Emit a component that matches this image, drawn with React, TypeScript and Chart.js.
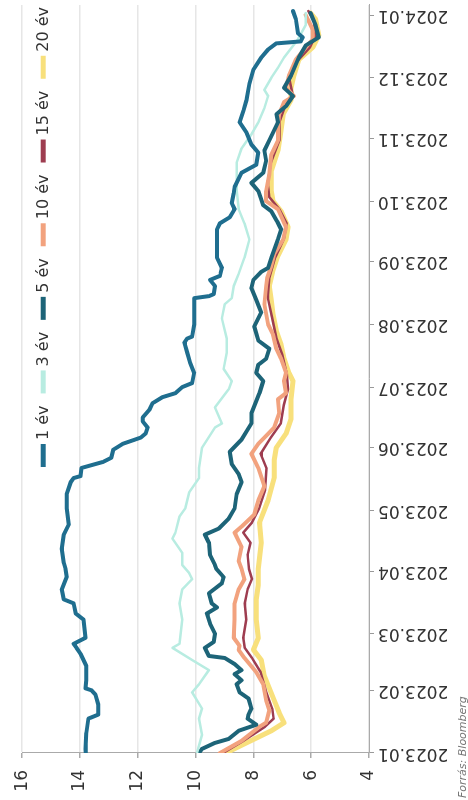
import React, { useEffect, useRef } from "react";
import { Chart, registerables } from "chart.js";

Chart.register(...registerables);

// Month tick positions (days since 2023-01-01) and their labels
const monthStarts = [0, 31, 59, 90, 120, 151, 181, 212, 243, 273, 304, 334, 365];
const monthLabels = [
  "2023.01", "2023.02", "2023.03", "2023.04", "2023.05", "2023.06", "2023.07",
  "2023.08", "2023.09", "2023.10", "2023.11", "2023.12", "2024.01",
];

const seriesNames = ["1 év", "3 év", "5 év", "10 év", "15 év", "20 év"];
const seriesColors = ["#1f6e8f", "#b8ece1", "#1d6478", "#f2a27e", "#9e3d50", "#f8e07c"];
const seriesWidths = [4, 2.5, 4, 4, 2.5, 5];

// 1 év
const days1 = [0, 2, 10, 17, 19, 24, 29, 31, 32, 36, 43, 49, 52, 54, 57, 66, 69, 74, 76, 81, 87, 91, 94, 101, 108, 113, 121, 128, 134, 136, 137, 141, 144, 146, 150, 153, 156, 158, 161, 164, 166, 170, 173, 176, 178, 181, 183, 188, 193, 198, 203, 205, 206, 212, 222, 225, 226, 227, 231, 234, 236, 240, 245, 254, 259, 262, 265, 269, 272, 277, 280, 287, 291, 297, 301, 307, 312, 318, 323, 331, 338, 344, 348, 351, 352, 354, 356, 363, 367];
const yield1 = [13.80, 13.81, 13.78, 13.71, 13.37, 13.37, 13.47, 13.60, 13.81, 13.78, 13.78, 13.98, 14.12, 14.22, 13.81, 13.88, 14.15, 14.22, 14.56, 14.63, 14.46, 14.50, 14.56, 14.63, 14.56, 14.39, 14.46, 14.46, 14.32, 14.22, 13.98, 13.95, 13.20, 12.92, 12.85, 12.51, 11.90, 11.73, 11.66, 11.83, 11.83, 11.59, 11.49, 11.15, 10.70, 10.46, 10.12, 10.05, 10.19, 10.29, 10.39, 10.29, 10.12, 10.05, 10.05, 10.05, 9.54, 9.37, 9.33, 9.50, 9.16, 9.09, 9.26, 9.26, 9.26, 9.16, 8.82, 8.65, 8.75, 8.68, 8.65, 8.41, 7.90, 7.83, 8.07, 8.24, 8.48, 8.34, 8.24, 8.14, 8.00, 7.73, 7.49, 7.21, 6.36, 6.29, 6.46, 6.53, 6.63];

// 3 év
const days3 = [0, 9, 17, 22, 30, 34, 41, 46, 52, 54, 66, 74, 81, 86, 89, 93, 99, 106, 109, 117, 121, 129, 136, 141, 151, 161, 163, 171, 180, 184, 190, 198, 205, 215, 222, 225, 231, 237, 245, 254, 262, 269, 278, 284, 292, 299, 306, 312, 319, 325, 328, 334, 339, 344, 353, 360, 366];
const yield3 = [9.95, 9.78, 9.88, 9.78, 10.12, 9.88, 9.54, 10.12, 10.80, 10.56, 10.46, 10.56, 10.46, 10.12, 10.22, 10.46, 10.46, 10.80, 10.70, 10.56, 10.36, 10.22, 9.88, 9.88, 9.78, 9.33, 9.09, 9.33, 8.85, 8.75, 9.03, 8.92, 8.92, 9.09, 8.99, 8.75, 8.68, 8.51, 8.31, 8.14, 8.31, 8.51, 8.58, 8.58, 8.58, 8.41, 8.07, 7.83, 7.62, 7.49, 7.62, 7.38, 7.15, 6.94, 6.46, 6.19, 6.19];

// 5 év
const days5 = [0, 2, 5, 7, 11, 14, 17, 19, 22, 27, 30, 34, 36, 39, 41, 44, 47, 48, 52, 55, 59, 64, 69, 72, 74, 79, 84, 87, 91, 93, 98, 104, 108, 111, 116, 121, 128, 134, 138, 143, 149, 155, 163, 168, 178, 184, 188, 192, 195, 200, 204, 211, 218, 224, 230, 234, 238, 240, 245, 254, 259, 263, 268, 271, 274, 278, 282, 287, 293, 298, 303, 312, 316, 320, 325, 329, 335, 344, 350, 354, 360, 366];
const yield5 = [9.88, 9.78, 9.33, 8.85, 8.51, 7.90, 8.20, 8.17, 8.07, 8.17, 8.48, 8.58, 8.41, 8.65, 8.41, 8.65, 8.99, 9.54, 9.68, 9.37, 9.33, 9.50, 9.61, 9.26, 9.44, 9.54, 9.09, 9.03, 9.28, 9.33, 9.50, 9.54, 9.68, 9.20, 8.85, 8.65, 8.58, 8.41, 8.51, 8.75, 8.82, 8.41, 8.07, 8.07, 7.79, 7.66, 7.90, 7.83, 7.56, 7.45, 7.83, 7.97, 7.73, 7.90, 8.07, 8.00, 7.73, 7.49, 7.38, 7.15, 7.04, 7.18, 7.38, 7.66, 7.73, 7.83, 8.07, 7.66, 7.56, 7.62, 7.45, 7.15, 7.20, 6.87, 6.63, 6.94, 6.70, 6.43, 6.19, 5.74, 5.85, 6.02];

// 10 év
const days10 = [0, 6, 13, 15, 21, 26, 34, 40, 47, 51, 53, 57, 66, 74, 81, 86, 91, 95, 102, 109, 112, 118, 125, 132, 141, 148, 153, 156, 161, 168, 175, 178, 184, 188, 195, 200, 207, 212, 222, 231, 235, 241, 247, 254, 260, 269, 273, 278, 286, 296, 303, 309, 316, 322, 325, 329, 335, 343, 349, 353, 358, 365];
const yield10 = [9.16, 8.41, 7.79, 7.56, 7.45, 7.56, 7.66, 7.90, 8.31, 8.51, 8.48, 8.68, 8.65, 8.65, 8.51, 8.31, 8.41, 8.51, 8.41, 8.65, 8.41, 7.97, 7.83, 7.62, 7.83, 8.07, 7.83, 7.62, 7.28, 7.11, 7.15, 6.87, 6.94, 6.87, 7.04, 7.21, 7.32, 7.49, 7.62, 7.56, 7.52, 7.38, 7.28, 6.97, 6.87, 7.15, 7.56, 7.56, 7.45, 7.38, 7.15, 7.15, 7.11, 6.94, 6.60, 6.87, 6.77, 6.53, 6.19, 5.95, 5.95, 6.19];

// 15 év
const days15 = [0, 6, 13, 17, 22, 30, 40, 47, 52, 57, 66, 74, 81, 86, 91, 98, 104, 109, 114, 121, 130, 141, 148, 156, 163, 172, 180, 188, 197, 205, 215, 225, 235, 245, 254, 262, 269, 275, 282, 292, 303, 312, 320, 326, 333, 342, 349, 355, 362, 367];
const yield15 = [9.05, 8.35, 7.60, 7.30, 7.35, 7.55, 7.75, 8.05, 8.30, 8.35, 8.25, 8.30, 8.20, 8.05, 8.15, 8.20, 8.10, 8.35, 8.05, 7.80, 7.60, 7.55, 7.75, 7.40, 7.05, 6.95, 6.80, 6.85, 7.00, 7.20, 7.35, 7.50, 7.45, 7.25, 6.95, 6.85, 7.10, 7.45, 7.50, 7.40, 7.10, 7.10, 6.90, 6.65, 6.75, 6.50, 6.05, 5.85, 5.90, 6.10];

// 20 év
const days20 = [0, 5, 11, 15, 20, 26, 38, 46, 51, 57, 66, 76, 83, 91, 104, 114, 125, 136, 145, 151, 158, 165, 175, 184, 188, 195, 202, 209, 217, 224, 231, 239, 246, 254, 260, 268, 273, 278, 288, 298, 308, 316, 323, 329, 335, 343, 349, 355, 363, 366];
const yield20 = [8.96, 8.24, 7.38, 6.94, 7.11, 7.28, 7.62, 7.73, 8.00, 7.83, 7.90, 7.90, 7.83, 7.83, 7.73, 7.79, 7.49, 7.28, 7.28, 7.21, 6.87, 6.70, 6.70, 6.63, 6.77, 6.94, 7.04, 7.21, 7.32, 7.38, 7.45, 7.32, 7.15, 6.87, 6.80, 7.04, 7.32, 7.38, 7.38, 7.15, 7.04, 6.97, 6.70, 6.70, 6.60, 6.43, 5.95, 5.74, 5.85, 6.02];

const yTickMin = 4;
const yTickMax = 16;
const yTickStep = 2;
const sourceText = "Forrás: Bloomberg";

const seriesDays = [days1, days3, days5, days10, days15, days20];
const seriesValues = [yield1, yield3, yield5, yield10, yield15, yield20];

const FONT = '"DejaVu Sans", "Liberation Sans", Arial, sans-serif';

const overlayPlugin = {
  id: "overlayLegend",
  afterDraw(chart: any) {
    const ctx = chart.ctx as CanvasRenderingContext2D;
    const area = chart.chartArea;
    ctx.save();
    ctx.font = `16px ${FONT}`;
    ctx.textBaseline = "middle";
    const markerLen = 23;
    const gap = 4;
    const itemGap = 12;
    const items = chart.data.datasets.map((ds: any) => ({
      label: ds.label,
      color: ds.borderColor,
      w: markerLen + gap + ctx.measureText(ds.label).width,
    }));
    const total = items.reduce((s: number, it: any) => s + it.w, 0) + itemGap * (items.length - 1);
    let x = area.right - 2 - total;
    const yc = area.top + 21;
    for (const it of items) {
      ctx.strokeStyle = it.color;
      ctx.lineWidth = 5;
      ctx.lineCap = "butt";
      ctx.beginPath();
      ctx.moveTo(x, yc);
      ctx.lineTo(x + markerLen, yc);
      ctx.stroke();
      ctx.fillStyle = "#333";
      ctx.textAlign = "left";
      ctx.fillText(it.label, x + markerLen + gap, yc + 1);
      x += it.w + itemGap;
    }
    ctx.font = `italic 11px ${FONT}`;
    ctx.fillStyle = "#777";
    ctx.textAlign = "left";
    ctx.textBaseline = "middle";
    ctx.fillText(sourceText, 2, chart.height - 5);
    ctx.restore();
  },
};

export default function App() {
  const ref = useRef<HTMLCanvasElement | null>(null);

  useEffect(() => {
    if (!ref.current) return;
    const datasets = seriesNames.map((name, i) => ({
      label: name,
      data: seriesDays[i].map((d, j) => ({ x: d, y: seriesValues[i][j] })),
      borderColor: seriesColors[i],
      backgroundColor: seriesColors[i],
      borderWidth: seriesWidths[i],
      pointRadius: 0,
      tension: 0,
      borderJoinStyle: "round" as const,
      borderCapStyle: "round" as const,
      fill: false,
    }));
    const chart = new Chart(ref.current, {
      type: "line",
      data: { datasets },
      options: {
        responsive: false,
        animation: false,
        layout: { padding: { top: 18, right: 5, left: 0, bottom: 0 } },
        plugins: {
          legend: { display: false },
          tooltip: { enabled: false },
        },
        scales: {
          x: {
            type: "linear",
            min: 0,
            max: 370,
            afterBuildTicks: (s: any) => {
              s.ticks = monthStarts.map((v) => ({ value: v }));
            },
            afterFit: (s: any) => {
              s.height = 99;
              s.paddingLeft = 0;
              s.paddingRight = 0;
            },
            ticks: {
              autoSkip: false,
              minRotation: 90,
              maxRotation: 90,
              padding: 4,
              color: "#333",
              font: { family: FONT, size: 17 },
              callback: (v: any) => {
                const i = monthStarts.indexOf(Number(v));
                return i >= 0 ? monthLabels[i] : "";
              },
            },
            grid: {
              display: true,
              drawOnChartArea: false,
              tickLength: 5,
              tickColor: "#999",
            },
            border: { display: true, color: "#aaa", width: 1 },
          },
          y: {
            min: yTickMin,
            max: yTickMax,
            afterFit: (s: any) => {
              s.width = 47;
            },
            ticks: {
              stepSize: yTickStep,
              padding: 12,
              color: "#333",
              font: { family: FONT, size: 17 },
            },
            grid: {
              color: "#e6e6e6",
              lineWidth: 1.5,
              tickLength: 5,
              tickColor: "#aaa",
            },
            border: { display: true, color: "#aaa", width: 1 },
          },
        },
      },
      plugins: [overlayPlugin],
    });
    return () => chart.destroy();
  }, []);

  return (
    <div style={{ position: "fixed", left: 0, top: 0, width: 468, height: 800, overflow: "hidden", background: "#fff" }}>
      <canvas
        ref={ref}
        width={800}
        height={468}
        style={{
          position: "absolute",
          left: 0,
          top: 0,
          width: 800,
          height: 468,
          transformOrigin: "0 0",
          transform: "translate(0px, 800px) rotate(-90deg)",
        }}
      />
    </div>
  );
}
